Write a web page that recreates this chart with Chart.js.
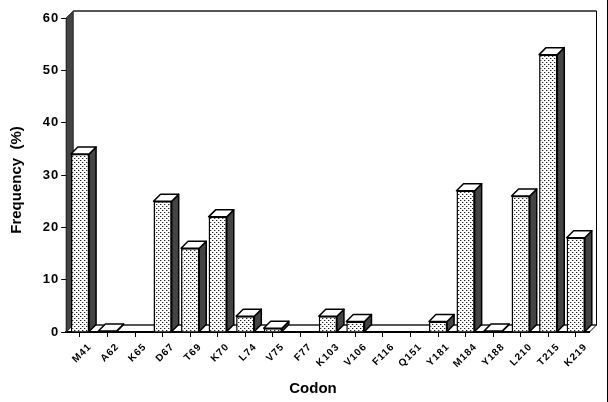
<!DOCTYPE html>
<html>
<head>
<meta charset="utf-8">
<style>
html, body { margin: 0; padding: 0; background: #fff; }
#wrap { position: relative; width: 608px; height: 402px; }
</style>
<script src="https://cdn.jsdelivr.net/npm/chart.js@4"></script>
</head>
<body>
<div id="wrap"><canvas id="grafico" width="608" height="402"></canvas></div>
<script>
const codons = ["M41", "A62", "K65", "D67", "T69", "K70", "L74", "V75", "F77", "K103",
    "V106", "F116", "Q151", "Y181", "M184", "Y188", "L210", "T215", "K219"];
const frequency = [34, 0.2, 0, 25, 16, 22, 3, 0.7, 0, 3, 2, 0, 0, 2, 27, 0.2, 26, 53, 18];
const yTicks = [0, 10, 20, 30, 40, 50, 60];
const xTitle = "Codon";
const yTitle = "Frequency  (%)";

const depth = 7;

// dotted fill of the bars
function dotPattern() {
    const c = document.createElement("canvas");
    c.width = 4;
    c.height = 4;
    const g = c.getContext("2d");
    g.fillStyle = "#fff";
    g.fillRect(0, 0, 4, 4);
    g.fillStyle = "#bbb";
    g.fillRect(1, 0, 1, 1);
    g.fillRect(3, 2, 1, 1);
    g.fillStyle = "#222";
    g.fillRect(0, 0, 1, 1);
    g.fillRect(2, 2, 1, 1);
    return g.createPattern(c, "repeat");
}

function poly(ctx, pts, fill, stroke, lw) {
    ctx.beginPath();
    pts.forEach((p, i) => i ? ctx.lineTo(p[0], p[1]) : ctx.moveTo(p[0], p[1]));
    ctx.closePath();
    if (fill) {
        ctx.fillStyle = fill;
        ctx.fill();
    }
    if (stroke) {
        ctx.strokeStyle = stroke;
        ctx.lineWidth = lw;
        ctx.stroke();
    }
}

// back walls, 3D faces of the bars and the axis titles
const walls = {
    id: "walls",
    beforeDraw(chart) {
        chart.ctx.letterSpacing = "1px";
    },
    beforeDatasetsDraw(chart) {
        const ctx = chart.ctx;
        const a = chart.chartArea;
        ctx.save();
        ctx.strokeStyle = "#555";
        ctx.lineWidth = 2;
        ctx.beginPath();
        ctx.moveTo(a.left + depth, a.top - depth);
        ctx.lineTo(a.right + depth, a.top - depth);
        ctx.stroke();
        ctx.beginPath();
        ctx.moveTo(a.left + depth, a.bottom - depth);
        ctx.lineTo(a.right + depth, a.bottom - depth);
        ctx.stroke();
        ctx.strokeStyle = "#000";
        ctx.lineWidth = 1;
        ctx.beginPath();
        ctx.moveTo(a.right + depth, a.top - depth);
        ctx.lineTo(a.right + depth, a.bottom - depth);
        ctx.lineTo(a.right, a.bottom);
        ctx.stroke();
        // left wall
        poly(ctx, [[a.left, a.top], [a.left + depth, a.top - depth], [a.left + depth, a.bottom - depth], [a.left, a.bottom]],
            "#444", "#222", 1);
        ctx.restore();
    },
    afterDatasetsDraw(chart) {
        const ctx = chart.ctx;
        const meta = chart.getDatasetMeta(0);
        ctx.save();
        ctx.lineJoin = "round";
        meta.data.forEach((bar, i) => {
            if (frequency[i] === 0) {
                return;
            }
            const l = bar.x - bar.width / 2;
            const r = bar.x + bar.width / 2;
            const t = bar.y;
            const b = bar.base;
            poly(ctx, [[r, t], [r + depth, t - depth], [r + depth, b - depth], [r, b]], "#444", "#000", 1.5);
            poly(ctx, [[l, t], [l + depth, t - depth], [r + depth, t - depth], [r, t]], "#fff", "#000", 1.5);
        });
        ctx.restore();
    },
    afterDraw(chart) {
        const ctx = chart.ctx;
        ctx.save();
        ctx.letterSpacing = "0px";
        // edge line of the scan
        ctx.strokeStyle = "#000";
        ctx.lineWidth = 1;
        ctx.beginPath();
        ctx.moveTo(607.5, 0);
        ctx.lineTo(607.5, 402);
        ctx.stroke();
        ctx.fillStyle = "#000";
        ctx.font = "bold 15px 'Liberation Sans'";
        ctx.textAlign = "center";
        ctx.textBaseline = "middle";
        ctx.fillText(xTitle, 313, 389);
        ctx.translate(17, 180);
        ctx.rotate(-Math.PI / 2);
        ctx.fillText(yTitle, 0, 0);
        ctx.restore();
    }
};

new Chart(document.getElementById("grafico").getContext("2d"), {
    type: "bar",
    data: {
        labels: codons,
        datasets: [{
            data: frequency,
            backgroundColor: dotPattern(),
            borderColor: "#000",
            borderWidth: 1.5,
            barPercentage: 0.66,
            categoryPercentage: 1
        }]
    },
    options: {
        responsive: false,
        animation: false,
        layout: { padding: { top: 18, right: 18.5, left: 0, bottom: 0 } },
        plugins: { legend: { display: false }, tooltip: { enabled: false } },
        scales: {
            x: {
                afterFit(scale) { scale.height = 70; },
                grid: { drawOnChartArea: false, color: "#000", tickLength: 5, offset: false },
                border: { color: "#000", width: 2 },
                ticks: {
                    color: "#000",
                    autoSkip: false,
                    minRotation: 45,
                    maxRotation: 45,
                    labelOffset: 10,
                    padding: 4,
                    font: { family: "Liberation Sans", size: 10, weight: "bold" }
                }
            },
            y: {
                min: 0,
                max: 60,
                afterFit(scale) { scale.width = 66.2; },
                afterBuildTicks(scale) { scale.ticks = yTicks.map(v => ({ value: v })); },
                grid: { drawOnChartArea: false, color: "#000", tickLength: 5 },
                border: { color: "#000", width: 1 },
                ticks: {
                    color: "#000",
                    padding: 2,
                    font: { family: "Liberation Sans", size: 13, weight: "bold" }
                }
            }
        }
    },
    plugins: [walls]
});
</script>
</body>
</html>
